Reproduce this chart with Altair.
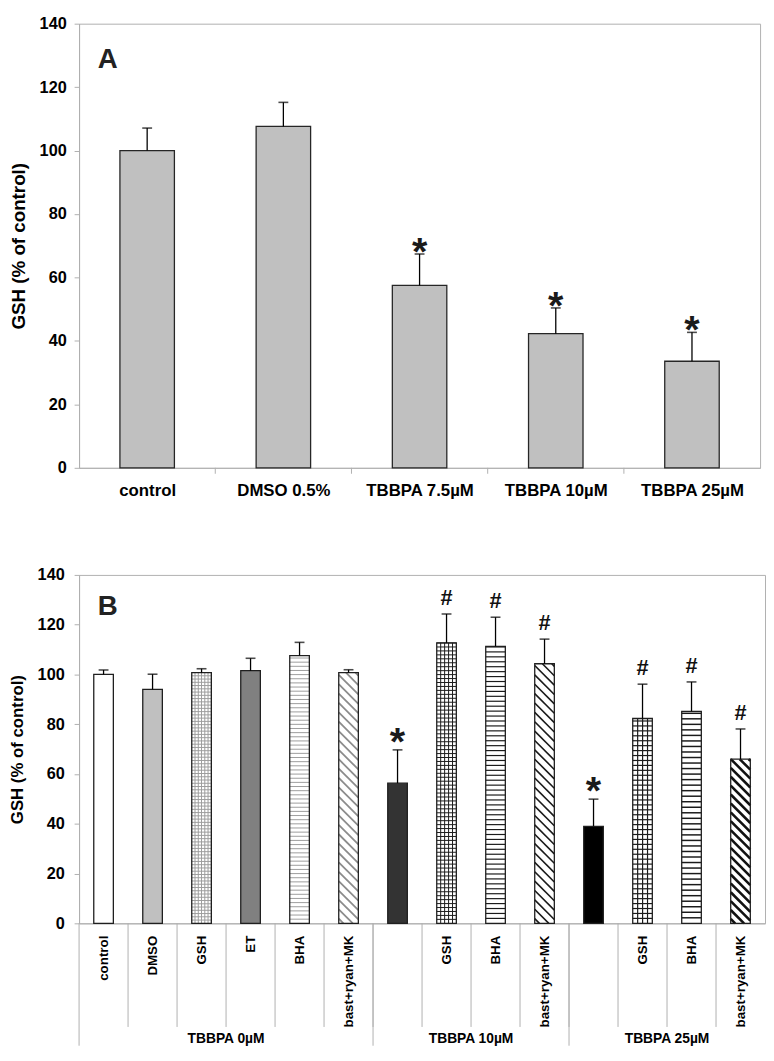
import json
import altair as alt
import pandas as pd

FONT = "Liberation Sans, Arial, Helvetica, sans-serif"
AX = "#b0b0b0"

# ---------------- Panel A data ----------------
a_labels = ["control", "DMSO 0.5%", "TBBPA 7.5µM", "TBBPA 10µM", "TBBPA 25µM"]
a_means = [100.0, 107.6, 57.5, 42.3, 33.6]
a_caps = [107.1, 115.2, 67.4, 50.4, 42.7]
a_marks = ["", "", "*", "*", "*"]

# ---------------- Panel B data ----------------
b_labels = ["control", "DMSO", "GSH", "ET", "BHA", "bast+ryan+MK",
            "", "GSH", "BHA", "bast+ryan+MK",
            "", "GSH", "BHA", "bast+ryan+MK"]
b_groups = ["TBBPA 0µM"] * 6 + ["TBBPA 10µM"] * 4 + ["TBBPA 25µM"] * 4
b_means = [100.0, 94.0, 100.7, 101.5, 107.6, 100.7, 56.3, 112.7, 111.3, 104.3, 39.0, 82.3, 85.2, 66.0]
b_caps = [101.8, 100.1, 102.3, 106.5, 112.9, 101.9, 69.7, 124.3, 123.0, 114.2, 49.9, 96.1, 97.0, 78.1]
b_marks = ["", "", "", "", "", "", "*", "#", "#", "#", "*", "#", "#", "#"]

# bar styles (fill colour and hatch pattern)
b_fill = ["#ffffff", "#c0c0c0", "#ffffff", "#808080", "#ffffff", "#ffffff", "#333333",
          "#ffffff", "#ffffff", "#ffffff", "#000000", "#ffffff", "#ffffff", "#ffffff"]
b_pattern = ["none", "none", "grid", "none", "hlines", "diag", "none",
             "grid", "hlines", "diag", "none", "grid", "hlines", "diag"]
b_patcolor = ["#000000", "#000000", "#9c9c9c", "#000000", "#9c9c9c", "#8c8c8c", "#000000",
              "#1a1a1a", "#1a1a1a", "#1a1a1a", "#000000", "#1a1a1a", "#1a1a1a", "#111111"]
b_patspace_px = [4, 4, 3.3, 4, 4.2, 9.5, 4, 4.0, 5.0, 9.5, 4, 5.0, 5.6, 9.0]
b_patwidth = [1, 1, 1.0, 1, 1.0, 1.8, 1, 1.0, 1.2, 1.6, 1, 1.2, 1.5, 2.6]

# ---------------- layout ----------------
WA, HA = 690, 450
WB, HB = 695, 353
YMAX = 140
HALF = 0.2  # half bar width in category units

nA, nB = len(a_labels), len(b_labels)
pxB_x = WB / nB
pxB_y = HB / YMAX
SLOPE = pxB_x / pxB_y  # y-units per x-unit for a 45 degree hatch


def y_axis(title, tsize, lpad, tpad):
    return alt.Axis(values=list(range(0, YMAX + 1, 20)), grid=False, tickSize=5, tickColor=AX,
                    domainColor=AX, labelFontSize=16.5, labelFontWeight="bold", labelColor="#000000",
                    labelPadding=lpad, title=title, titleFontSize=tsize, titleFontWeight="bold",
                    titleColor="#000000", titlePadding=tpad)


# ================= Panel A =================
dfA = pd.DataFrame({"i": list(range(nA)), "label": a_labels, "mean": a_means,
                    "cap": a_caps, "mark": a_marks})
scAx = alt.Scale(domain=[0, nA], nice=False, zero=False)
scAy = alt.Scale(domain=[0, YMAX], nice=False)
axAx = alt.Axis(values=[i + 0.5 for i in range(nA)],
                labelExpr=json.dumps(a_labels, ensure_ascii=False) + "[floor(datum.value)]",
                ticks=False, grid=False, domainColor=AX, labelFontSize=17, labelFontWeight="bold",
                labelColor="#000000", labelPadding=15, labelFlush=False, labelOverlap=False,
                labelAngle=0, title=None)
axAy = y_axis("GSH (% of control)", 19, 8, 11)

baseA = alt.Chart(dfA).transform_calculate(
    xc="datum.i + 0.5", x0=f"datum.i + 0.5 - {HALF}", x1=f"datum.i + 0.5 + {HALF}", zero="0")

barsA = baseA.mark_rect(fill="#c0c0c0", stroke="#262626", strokeWidth=1.3).encode(
    x=alt.X("x0:Q", scale=scAx, axis=axAx), x2=alt.X2("x1"),
    y=alt.Y("mean:Q", scale=scAy, axis=axAy), y2=alt.Y2("zero"))
errA = baseA.mark_rule(color="#000000", strokeWidth=1.3).encode(
    x=alt.X("xc:Q", scale=scAx, axis=axAx),
    y=alt.Y("mean:Q", scale=scAy, axis=axAy), y2=alt.Y2("cap"))
capA = baseA.mark_tick(orient="horizontal", size=10, thickness=1.6, color="#000000").encode(
    x=alt.X("xc:Q", scale=scAx, axis=axAx), y=alt.Y("cap:Q", scale=scAy, axis=axAy))
starA = baseA.mark_text(fontSize=40, fontWeight="bold", baseline="alphabetic", align="center",
                        dy=10.8, color="#1a1a1a").encode(
    x=alt.X("xc:Q", scale=scAx, axis=axAx), y=alt.Y("cap:Q", scale=scAy, axis=axAy), text="mark:N")

sepA = alt.Chart(pd.DataFrame({"b": list(range(1, nA))})).mark_rule(color=AX).encode(
    x=alt.X("b:Q", scale=scAx, axis=axAx), y=alt.value(HA), y2=alt.value(HA + 6))
letterA = alt.Chart(pd.DataFrame({"t": ["A"]})).mark_text(
    fontSize=28, fontWeight="bold", baseline="alphabetic", align="center", color="#222222").encode(
    x=alt.value(29), y=alt.value(45), text="t:N")

chartA = alt.layer(barsA, errA, capA, starA, sepA, letterA).properties(width=WA, height=HA)

# ================= Panel B =================
dfB = pd.DataFrame({
    "i": list(range(nB)), "label": b_labels, "grp": b_groups, "mean": b_means, "cap": b_caps,
    "mark": b_marks, "fill": b_fill, "pat": b_pattern, "pcol": b_patcolor, "pw": b_patwidth,
    "hsp": [s / pxB_y for s in b_patspace_px],
    "vsp": [s / pxB_x for s in b_patspace_px],
})
scBx = alt.Scale(domain=[0, nB], nice=False, zero=False)
scBy = alt.Scale(domain=[0, YMAX], nice=False)
axBx = alt.Axis(values=[i + 0.5 for i in range(nB)],
                labelExpr=json.dumps(b_labels, ensure_ascii=False) + "[floor(datum.value)]",
                ticks=False, grid=False, domainColor=AX, labelFontSize=13.5, labelFontWeight="bold",
                labelColor="#000000", labelPadding=12, labelFlush=False, labelOverlap=False,
                labelAngle=270, labelAlign="right", labelBaseline="middle", title=None)
axBy = y_axis("GSH (% of control)", 17, 10, 10.5)


def bx(f):
    return alt.X(f"{f}:Q", scale=scBx, axis=axBx)


def by(f):
    return alt.Y(f"{f}:Q", scale=scBy, axis=axBy)


baseB = alt.Chart(dfB).transform_calculate(
    xc="datum.i + 0.5", x0=f"datum.i + 0.5 - {HALF}", x1=f"datum.i + 0.5 + {HALF}", zero="0")

fillB = baseB.mark_rect(strokeWidth=0).encode(
    x=bx("x0"), x2=alt.X2("x1"), y=by("mean"), y2=alt.Y2("zero"),
    fill=alt.Fill("fill:N", scale=None))

hlinesB = baseB.transform_filter("datum.pat == 'grid' || datum.pat == 'hlines'").transform_calculate(
    ys="sequence(datum.hsp, datum.mean, datum.hsp)").transform_flatten(["ys"]).mark_rule(
    strokeCap="butt").encode(
    x=bx("x0"), x2=alt.X2("x1"), y=by("ys"),
    color=alt.Color("pcol:N", scale=None), strokeWidth=alt.StrokeWidth("pw:Q", scale=None))

vlinesB = baseB.transform_filter("datum.pat == 'grid'").transform_calculate(
    offs=f"sequence(datum.vsp, {2 * HALF} - 0.001, datum.vsp)").transform_flatten(
    ["offs"]).transform_calculate(xx="datum.x0 + datum.offs").mark_rule(strokeCap="butt").encode(
    x=bx("xx"), y=by("zero"), y2=alt.Y2("mean"),
    color=alt.Color("pcol:N", scale=None), strokeWidth=alt.StrokeWidth("pw:Q", scale=None))

W2 = 2 * HALF
diagB = baseB.transform_filter("datum.pat == 'diag'").transform_calculate(
    cs=f"sequence(datum.hsp * 0.5, datum.mean + {W2 * SLOPE}, datum.hsp)").transform_flatten(
    ["cs"]).transform_calculate(
    xa=f"datum.x0 + max(0, datum.cs - datum.mean) / {SLOPE}",
    ya="min(datum.cs, datum.mean)",
    xb=f"datum.x0 + min({W2}, datum.cs / {SLOPE})",
    yb=f"max(0, datum.cs - {W2 * SLOPE})").mark_rule(strokeCap="butt").encode(
    x=bx("xa"), y=by("ya"), x2=alt.X2("xb"), y2=alt.Y2("yb"),
    color=alt.Color("pcol:N", scale=None), strokeWidth=alt.StrokeWidth("pw:Q", scale=None))

outlineB = baseB.mark_rect(fillOpacity=0, stroke="#1f1f1f", strokeWidth=1.3).encode(
    x=bx("x0"), x2=alt.X2("x1"), y=by("mean"), y2=alt.Y2("zero"))

errB = baseB.mark_rule(color="#000000", strokeWidth=1.3).encode(
    x=bx("xc"), y=by("mean"), y2=alt.Y2("cap"))
capB = baseB.mark_tick(orient="horizontal", size=10, thickness=1.6, color="#000000").encode(
    x=bx("xc"), y=by("cap"))
starB = baseB.transform_filter("datum.mark == '*'").mark_text(
    fontSize=40, fontWeight="bold", baseline="alphabetic", align="center", dy=4.8,
    color="#1a1a1a").encode(x=bx("xc"), y=by("cap"), text="mark:N")
hashB = baseB.transform_filter("datum.mark == '#'").mark_text(
    fontSize=22, fontWeight="bold", baseline="alphabetic", align="center", dy=-9.3,
    color="#111111").encode(x=bx("xc"), y=by("cap"), text="mark:N")

group_starts = [0] + [k for k in range(1, nB) if b_groups[k] != b_groups[k - 1]]
sepB = alt.Chart(pd.DataFrame({"b": list(range(1, nB))})).mark_rule(color=AX).encode(
    x=bx("b"), y=alt.value(HB), y2=alt.value(HB + 105))
gsepB = alt.Chart(pd.DataFrame({"b": group_starts})).mark_rule(color=AX).encode(
    x=bx("b"), y=alt.value(HB), y2=alt.value(HB + 124))
grp_df = pd.DataFrame({"grp": b_groups, "c": [k + 0.5 for k in range(nB)]}).groupby(
    "grp", sort=False, as_index=False)["c"].mean()
glabB = alt.Chart(grp_df).mark_text(fontSize=14, fontWeight="bold", baseline="middle",
                                    align="center", color="#000000").encode(
    x=bx("c"), y=alt.value(HB + 117), text="grp:N")
letterB = alt.Chart(pd.DataFrame({"t": ["B"]})).mark_text(
    fontSize=28, fontWeight="bold", baseline="alphabetic", align="center", color="#222222").encode(
    x=alt.value(29), y=alt.value(41), text="t:N")

chartB = alt.layer(fillB, hlinesB, vlinesB, diagB, outlineB, errB, capB, starB, hashB,
                   sepB, gsepB, glabB, letterB).properties(width=WB, height=HB)

chart = alt.concat(chartA, chartB, columns=1, spacing=67.5).properties(
    padding=0
).configure_view(stroke=AX, strokeWidth=1).configure_axis(
    labelFont=FONT, titleFont=FONT).configure_text(font=FONT)

chart.save("out.html", embed_options={"renderer": "svg", "actions": False})
